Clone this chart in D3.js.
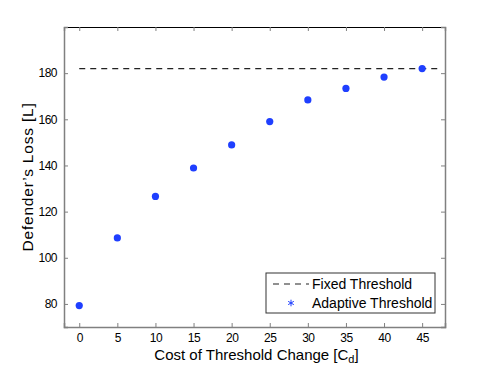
<!DOCTYPE html>
<head>
  <meta charset="utf-8">
  <style>
    body { margin: 0; background: #fff; }
    text { font-family: "Liberation Sans", Arial, sans-serif; }
  </style>
</head>
<body>
<svg id="chart" width="491" height="369"></svg>
<script src="https://d3js.org/d3.v7.min.js"></script>
<script>
  // data
  var costs = [0, 5, 10, 15, 20, 25, 30, 35, 40, 45];
  var adaptiveLoss = [79.3, 108.6, 126.6, 138.9, 148.9, 159.0, 168.4, 173.4, 178.3, 182.0];
  var fixedLoss = 182;
  var xTicks = [0, 5, 10, 15, 20, 25, 30, 35, 40, 45];
  var yTicks = [80, 100, 120, 140, 160, 180];
  var seriesNames = ["Fixed Threshold", "Adaptive Threshold"];

  var svg = d3.select("#chart"),
      margin = {top: 27, right: 46, bottom: 42, left: 64},
      width = +svg.attr("width") - margin.left - margin.right,
      height = +svg.attr("height") - margin.top - margin.bottom,
      g = svg.append("g").attr("transform", "translate(" + margin.left + "," + margin.top + ")");

  var x = d3.scaleLinear().domain([-2, 48]).range([0, width]);
  var y = d3.scaleLinear().domain([70, 200]).range([height, 0]);
  var blue = "#1f3fff", grey = "#808080";

  // ticks pointing inward, matlab style
  var xAxis = g.append("g")
    .attr("transform", "translate(0," + height + ")")
    .call(d3.axisBottom(x).tickValues(xTicks).tickSize(-4).tickPadding(6));
  var xTop = g.append("g")
    .call(d3.axisTop(x).tickValues(xTicks).tickSize(-4).tickFormat(""));
  var yAxis = g.append("g")
    .call(d3.axisLeft(y).tickValues(yTicks).tickSize(-4).tickPadding(7));
  var yRight = g.append("g")
    .attr("transform", "translate(" + width + ",0)")
    .call(d3.axisRight(y).tickValues(yTicks).tickSize(-4).tickFormat(""));

  [xAxis, xTop, yAxis, yRight].forEach(function(a) {
    a.selectAll("text")
      .style("font-size", "12px")
      .style("letter-spacing", "-0.5px")
      .attr("fill", "#000");
    a.selectAll(".tick line").attr("stroke", grey);
    a.select(".domain").attr("stroke", grey).attr("stroke-width", 1.5);
  });
  xTop.select(".domain").attr("stroke", "#000").attr("stroke-width", 1.2);

  // fixed threshold
  g.append("line")
    .attr("x1", x(0)).attr("x2", x(47.5))
    .attr("y1", y(fixedLoss)).attr("y2", y(fixedLoss))
    .attr("stroke", "#222").attr("stroke-width", 1.2)
    .attr("stroke-dasharray", "6,5");

  // adaptive threshold points
  g.selectAll(".pt")
    .data(costs)
    .enter().append("circle")
    .attr("class", "pt")
    .attr("cx", function(d) { return x(d); })
    .attr("cy", function(d, i) { return y(adaptiveLoss[i]); })
    .attr("r", 3.6)
    .attr("fill", blue);

  // axis labels
  svg.append("text")
    .attr("x", margin.left + width / 2 + 2)
    .attr("y", 360)
    .attr("text-anchor", "middle")
    .style("font-size", "15px")
    .html('Cost of Threshold Change [C<tspan baseline-shift="-30%" font-size="11px">d</tspan>]');

  svg.append("text")
    .attr("transform", "translate(33," + (margin.top + height / 2) + ") rotate(-90)")
    .attr("text-anchor", "middle")
    .style("font-size", "15.5px")
    .style("letter-spacing", "0.8px")
    .text("Defender\u2019s Loss [L]");

  // legend
  var legend = svg.append("g").attr("transform", "translate(266,273)");
  legend.append("rect")
    .attr("width", 169).attr("height", 40)
    .attr("fill", "#fff").attr("stroke", "#333").attr("stroke-width", 1);
  legend.append("line")
    .attr("x1", 7).attr("x2", 43).attr("y1", 11).attr("y2", 11)
    .attr("stroke", "#222").attr("stroke-width", 1.2)
    .attr("stroke-dasharray", "6,5");
  var star = d3.symbol().type(d3.symbolAsterisk).size(30);
  legend.append("path")
    .attr("d", star())
    .attr("transform", "translate(25,30)")
    .attr("stroke", blue).attr("stroke-width", 1).attr("fill", "none");
  legend.selectAll(".lt")
    .data(seriesNames)
    .enter().append("text")
    .attr("class", "lt")
    .attr("x", 46)
    .attr("y", function(d, i) { return 11 + i * 19; })
    .attr("dy", "0.35em")
    .style("font-size", "14px")
    .text(function(d) { return d; });
</script>
</body>
